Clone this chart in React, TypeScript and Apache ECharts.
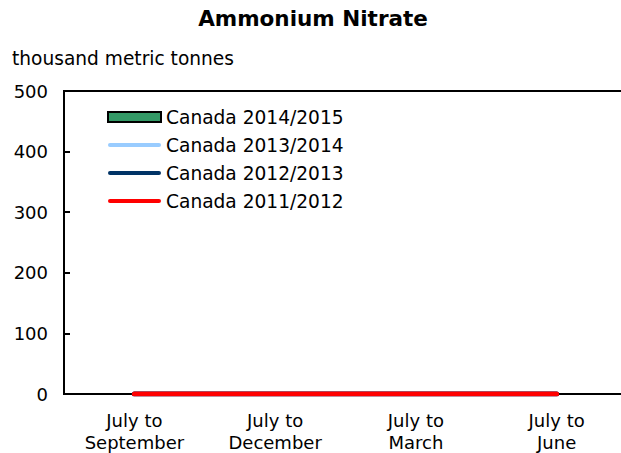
import React, { useEffect, useRef } from "react";
import * as echarts from "echarts";

const categories = ["July to\nSeptember", "July to\nDecember", "July to\nMarch", "July to\nJune"];
const yTicks = { min: 0, max: 500, interval: 100 };
const canada201415: (number | null)[] = [null, null, null, null];
const canada201314: number[] = [0, 0, 0, 0];
const canada201213: number[] = [0, 0, 0, 0];
const canada201112: number[] = [0, 0, 0, 0];
const seriesNames = ["Canada 2014/2015", "Canada 2013/2014", "Canada 2012/2013", "Canada 2011/2012"];
const colors = ["#339966", "#99CCFF", "#003366", "#FF0000"];

const FONT = "DejaVu Sans";
const lineIcon = "path://M2,0 H51 A2,2 0 0 1 51,4 H2 A2,2 0 0 1 2,0 Z";

export default function App() {
  const ref = useRef<HTMLDivElement>(null);
  useEffect(() => {
    if (!ref.current) return;
    const chart = echarts.init(ref.current, null, { renderer: "svg" });
    const lineSeries = (name: string, data: number[], color: string) => ({
      name,
      type: "line",
      data,
      symbol: "none",
      showSymbol: false,
      color,
      itemStyle: { color },
      lineStyle: { color, width: 5, cap: "round" },
    });
    chart.setOption({
      animation: false,
      backgroundColor: "#ffffff",
      textStyle: { fontFamily: FONT },
      graphic: [
        {
          type: "text",
          x: 313,
          y: 18,
          style: {
            text: "Ammonium Nitrate",
            font: `bold 21.5px "${FONT}"`,
            fill: "#000",
            align: "center",
            verticalAlign: "middle",
          },
        },
        {
          type: "text",
          x: 12,
          y: 58,
          style: {
            text: "thousand metric tonnes",
            font: `18.6px "${FONT}"`,
            fill: "#000",
            verticalAlign: "middle",
          },
        },
      ],
      legend: {
        orient: "vertical",
        left: 107,
        top: 107,
        padding: 0,
        itemGap: 8,
        itemWidth: 53,
        itemHeight: 10,
        textStyle: { fontFamily: FONT, fontSize: 18.6, color: "#000", lineHeight: 20 },
        data: [
          { name: seriesNames[0], icon: "rect" },
          { name: seriesNames[1], icon: lineIcon },
          { name: seriesNames[2], icon: lineIcon },
          { name: seriesNames[3], icon: lineIcon },
        ],
      },
      grid: {
        left: 64,
        top: 91,
        width: 563,
        height: 303,
        containLabel: false,
        show: true,
        borderColor: "#000",
        borderWidth: 2,
        backgroundColor: "transparent",
      },
      xAxis: {
        type: "category",
        data: categories,
        position: "bottom",
        axisLine: { lineStyle: { color: "#000", width: 2 } },
        axisTick: { inside: true, length: 6, lineStyle: { color: "#000", width: 2 } },
        axisLabel: { fontFamily: FONT, fontSize: 18, color: "#000", lineHeight: 22, margin: 15, interval: 0 },
        splitLine: { show: false },
      },
      yAxis: {
        type: "value",
        min: yTicks.min,
        max: yTicks.max,
        interval: yTicks.interval,
        axisLine: { show: true, lineStyle: { color: "#000", width: 2 } },
        axisTick: { show: true, inside: true, length: 6, lineStyle: { color: "#000", width: 2 } },
        axisLabel: { fontFamily: FONT, fontSize: 18, color: "#000", margin: 16 },
        splitLine: { show: false },
      },
      series: [
        {
          name: seriesNames[0],
          type: "bar",
          data: canada201415,
          color: colors[0],
          itemStyle: { color: colors[0], borderColor: "#000", borderWidth: 2 },
        },
        lineSeries(seriesNames[1], canada201314, colors[1]),
        lineSeries(seriesNames[2], canada201213, colors[2]),
        lineSeries(seriesNames[3], canada201112, colors[3]),
      ],
    });
    return () => chart.dispose();
  }, []);
  return (
    <div
      style={{
        position: "fixed",
        left: 0,
        top: 0,
        width: 621,
        height: 453,
        overflow: "hidden",
        background: "#fff",
      }}
    >
      <div ref={ref} style={{ width: 660, height: 453 }} />
    </div>
  );
}
